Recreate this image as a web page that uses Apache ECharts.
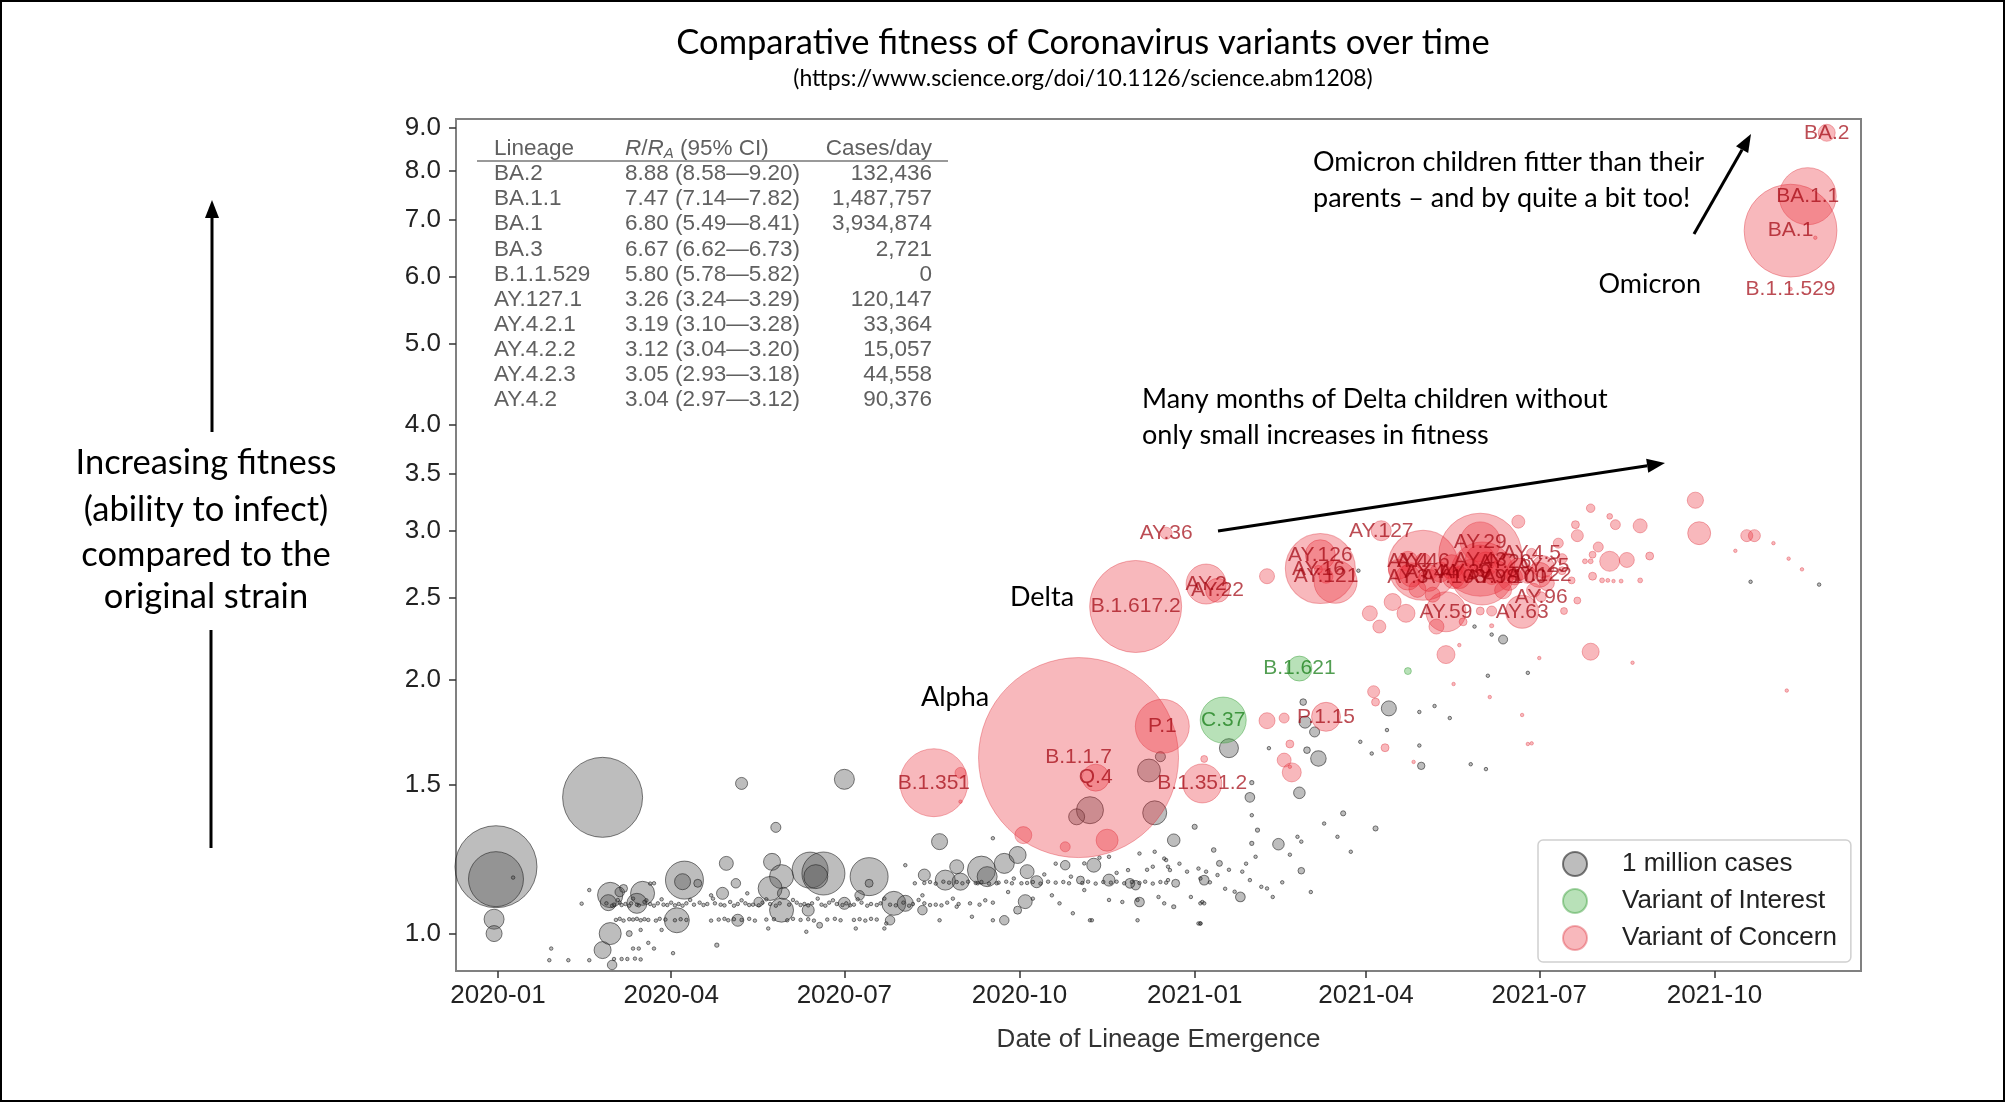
<!DOCTYPE html>
<html>
<head>
<meta charset="utf-8">
<title>Comparative fitness of Coronavirus variants over time</title>
<script src="https://cdn.jsdelivr.net/npm/echarts@6/dist/echarts.min.js"></script>
<style>
  html, body { margin: 0; padding: 0; background: #fff; }
  #chart { width: 2005px; height: 1102px; }
</style>
</head>
<body>
<div id="chart"></div>
<script>
// ---- data ----
// tuples: [date of lineage emergence, R/R_A, cases per day (thousands)]
var yTicks = [1.0, 1.5, 2.0, 2.5, 3.0, 3.5, 4.0, 5.0, 6.0, 7.0, 8.0, 9.0];
var xTicks = ['2020-01', '2020-04', '2020-07', '2020-10', '2021-01', '2021-04', '2021-07', '2021-10'];

// table in the upper left corner
var tableLineage = ['BA.2', 'BA.1.1', 'BA.1', 'BA.3', 'B.1.1.529', 'AY.127.1', 'AY.4.2.1', 'AY.4.2.2', 'AY.4.2.3', 'AY.4.2'];
var tableR = [8.88, 7.47, 6.80, 6.67, 5.80, 3.26, 3.19, 3.12, 3.05, 3.04];
var tableLow = [8.58, 7.14, 5.49, 6.62, 5.78, 3.24, 3.10, 3.04, 2.93, 2.97];
var tableHigh = [9.20, 7.82, 8.41, 6.73, 5.82, 3.29, 3.28, 3.20, 3.18, 3.12];
var tableCases = [132436, 1487757, 3934874, 2721, 0, 120147, 33364, 15057, 44558, 90376];

// other lineages (grey)
var otherLineages = [
  ['2019-12-31', 1.20, 3070], ['2019-12-31', 1.16, 1380], ['2020-01-09', 1.165, 3],
  ['2019-12-30', 1.04, 183], ['2019-12-30', 1.00, 117], ['2020-02-25', 1.45, 2920],
  ['2020-01-29', 0.96, 3], ['2020-01-28', 0.93, 2], ['2020-02-07', 0.93, 2],
  ['2020-02-14', 1.085, 2], ['2020-02-18', 1.126, 2], ['2020-02-18', 0.93, 2],
  ['2020-02-25', 0.956, 132], ['2020-02-29', 1.00, 221], ['2020-03-01', 0.918, 41],
  ['2020-02-29', 1.111, 292], ['2020-02-28', 1.088, 117], ['2020-03-17', 1.116, 263],
  ['2020-03-14', 1.086, 183], ['2020-03-10', 1.00, 16], ['2020-03-07', 1.131, 29],
  ['2020-03-05', 1.12, 41], ['2020-03-02', 0.933, 4], ['2020-03-06', 0.933, 4],
  ['2020-03-09', 0.933, 3], ['2020-03-13', 0.934, 5], ['2020-03-16', 0.932, 3],
  ['2020-03-21', 1.146, 3], ['2020-03-20', 0.975, 3], ['2020-04-02', 0.948, 4],
  ['2020-03-23', 0.96, 5], ['2020-04-08', 1.157, 659], ['2020-04-07', 1.152, 117],
  ['2020-04-04', 1.037, 285], ['2020-04-30', 1.211, 89], ['2020-05-05', 1.147, 41],
  ['2020-05-06', 1.037, 66], ['2020-04-25', 0.969, 8], ['2020-04-28', 1.116, 66],
  ['2020-04-15', 1.147, 29], ['2020-05-08', 1.506, 66], ['2020-05-26', 1.336, 46],
  ['2020-05-24', 1.216, 132], ['2020-05-29', 1.168, 263], ['2020-05-23', 1.131, 263],
  ['2020-05-29', 1.066, 263], ['2020-05-30', 1.116, 66], ['2020-05-17', 1.09, 41],
  ['2020-06-13', 1.189, 592], ['2020-06-20', 1.178, 844], ['2020-06-16', 1.168, 263],
  ['2020-06-12', 1.066, 66], ['2020-06-18', 1.023, 16], ['2020-07-01', 1.523, 183],
  ['2020-07-14', 1.168, 659], ['2020-07-14', 1.147, 29], ['2020-07-09', 1.11, 41],
  ['2020-07-01', 1.086, 66], ['2020-07-25', 1.037, 41], ['2020-07-27', 1.086, 263],
  ['2020-08-02', 1.086, 117], ['2020-08-12', 1.173, 66], ['2020-08-11', 1.066, 41],
  ['2020-08-20', 1.285, 117], ['2020-08-23', 1.157, 183], ['2020-08-29', 1.20, 89],
  ['2020-08-31', 1.152, 132], ['2020-09-11', 1.189, 358], ['2020-09-14', 1.168, 183],
  ['2020-09-23', 1.211, 183], ['2020-09-30', 1.239, 132], ['2020-10-04', 1.091, 89],
  ['2020-09-23', 1.037, 41], ['2020-09-30', 1.066, 29], ['2020-10-05', 1.184, 89],
  ['2020-10-10', 1.152, 66], ['2020-10-25', 1.205, 41], ['2020-11-02', 1.157, 29],
  ['2020-11-17', 1.157, 66], ['2020-11-09', 1.205, 89], ['2020-12-01', 1.141, 41],
  ['2020-12-22', 1.147, 29], ['2020-12-21', 1.29, 72], ['2020-12-03', 1.09, 43],
  ['2020-11-07', 1.40, 333], ['2020-10-31', 1.375, 117], ['2020-12-11', 1.39, 263],
  ['2020-12-08', 1.56, 240], ['2020-12-14', 1.62, 46], ['2020-11-28', 1.147, 43],
  ['2021-01-19', 1.658, 165], ['2021-03-07', 1.612, 110], ['2021-02-25', 1.468, 61],
  ['2021-01-30', 1.45, 43], ['2021-02-14', 1.276, 61], ['2021-01-25', 1.105, 43],
  ['2021-01-06', 1.157, 43], ['2021-02-26', 1.187, 20], ['2021-01-01', 1.338, 12],
  ['2021-03-20', 1.388, 12], ['2021-04-06', 1.332, 12], ['2021-04-30', 1.58, 25],
  ['2021-05-26', 1.587, 3], ['2021-06-03', 1.566, 3], ['2021-04-04', 1.634, 3],
  ['2021-03-29', 1.687, 3], ['2021-01-30', 1.157, 3], ['2021-02-08', 1.131, 4],
  ['2021-01-22', 1.121, 3], ['2021-01-04', 1.086, 3], ['2021-01-04', 1.028, 3],
  ['2020-12-21', 1.076, 8], ['2021-01-11', 1.256, 10], ['2021-01-14', 1.211, 16],
  ['2021-01-19', 1.19, 3], ['2021-01-31', 1.279, 8], ['2021-02-03', 1.326, 8],
  ['2021-01-31', 1.381, 4], ['2021-01-31', 1.509, 8], ['2021-02-26', 1.285, 3],
  ['2021-03-17', 1.302, 3], ['2021-03-01', 1.649, 20], ['2021-06-12', 2.23, 37],
  ['2021-06-06', 2.26, 4], ['2021-05-28', 2.31, 3], ['2021-06-04', 2.02, 3],
  ['2021-06-25', 2.036, 3], ['2021-04-13', 1.848, 103], ['2021-02-27', 1.88, 20],
  ['2021-02-28', 1.78, 66], ['2021-03-05', 1.733, 46], ['2021-02-09', 1.658, 3],
  ['2021-04-12', 1.742, 3], ['2021-04-29', 1.83, 3], ['2021-05-07', 1.86, 3],
  ['2021-05-15', 1.80, 3], ['2021-04-29', 1.67, 3], ['2021-10-20', 2.61, 3],
  ['2021-11-25', 2.59, 3], ['2021-03-28', 2.69, 3], ['2020-09-17', 1.297, 3],
  ['2020-08-02', 1.205, 3], ['2020-11-07', 1.037, 3]
];

// the dense rows of very small grey lineages
var otherMinor = [
  ['2020-02-27', 1.086, 3], ['2020-03-02', 1.082, 3], ['2020-03-05', 1.088, 4], ['2020-03-08', 1.084, 3],
  ['2020-03-11', 1.086, 4], ['2020-03-14', 1.082, 3], ['2020-03-18', 1.09, 3], ['2020-03-21', 1.084, 4],
  ['2020-03-25', 1.086, 3], ['2020-03-28', 1.082, 3], ['2020-04-01', 1.088, 3], ['2020-04-05', 1.084, 4],
  ['2020-04-09', 1.086, 3], ['2020-04-13', 1.082, 3], ['2020-04-16', 1.088, 3], ['2020-04-20', 1.084, 4],
  ['2020-04-24', 1.086, 3], ['2020-04-27', 1.082, 3], ['2020-05-02', 1.09, 3], ['2020-05-06', 1.084, 4],
  ['2020-05-10', 1.086, 3], ['2020-05-14', 1.082, 3], ['2020-05-19', 1.088, 3], ['2020-05-23', 1.084, 4],
  ['2020-05-28', 1.086, 3], ['2020-06-02', 1.082, 3], ['2020-06-06', 1.088, 4], ['2020-06-10', 1.084, 3],
  ['2020-06-14', 1.086, 3], ['2020-06-19', 1.082, 3], ['2020-06-23', 1.088, 4], ['2020-06-27', 1.084, 3],
  ['2020-07-02', 1.086, 3], ['2020-07-06', 1.082, 3], ['2020-07-10', 1.088, 3], ['2020-07-15', 1.084, 4],
  ['2020-07-20', 1.086, 3], ['2020-07-25', 1.082, 3], ['2020-08-01', 1.088, 3], ['2020-08-06', 1.084, 3],
  ['2020-08-12', 1.086, 3], ['2020-08-18', 1.082, 3], ['2020-08-24', 1.088, 3], ['2020-08-30', 1.084, 3],
  ['2020-09-05', 1.086, 3], ['2020-09-10', 1.082, 3], ['2020-09-17', 1.088, 3],
  ['2020-03-01', 1.079, 3], ['2020-03-06', 1.081, 3], ['2020-03-10', 1.079, 3], ['2020-03-15', 1.08, 3],
  ['2020-03-23', 1.079, 3], ['2020-03-30', 1.081, 3], ['2020-04-03', 1.08, 3], ['2020-04-07', 1.079, 3],
  ['2020-04-18', 1.081, 3], ['2020-04-29', 1.08, 3], ['2020-05-04', 1.079, 3], ['2020-05-12', 1.081, 3],
  ['2020-05-17', 1.08, 3], ['2020-05-26', 1.079, 3], ['2020-06-08', 1.081, 3], ['2020-06-12', 1.08, 3],
  ['2020-06-21', 1.079, 3], ['2020-06-30', 1.081, 3], ['2020-07-04', 1.08, 3], ['2020-07-13', 1.079, 3],
  ['2020-07-18', 1.081, 3], ['2020-07-28', 1.08, 3], ['2020-08-04', 1.079, 3], ['2020-08-15', 1.081, 3],
  ['2020-08-21', 1.08, 3],
  ['2020-03-04', 1.096, 3], ['2020-03-12', 1.10, 3], ['2020-03-19', 1.095, 3], ['2020-03-27', 1.098, 3],
  ['2020-04-11', 1.096, 3], ['2020-04-23', 1.10, 3], ['2020-05-08', 1.095, 3], ['2020-05-21', 1.098, 3],
  ['2020-06-04', 1.096, 3], ['2020-06-17', 1.10, 3], ['2020-06-25', 1.095, 3], ['2020-07-08', 1.098, 3],
  ['2020-07-22', 1.10, 3], ['2020-08-09', 1.096, 3], ['2020-08-27', 1.10, 3], ['2020-09-13', 1.095, 3],
  ['2020-03-03', 1.038, 3], ['2020-03-07', 1.036, 3], ['2020-03-12', 1.039, 4], ['2020-03-16', 1.037, 3],
  ['2020-03-20', 1.038, 3], ['2020-03-24', 1.036, 4], ['2020-03-29', 1.039, 3], ['2020-04-03', 1.037, 3],
  ['2020-04-09', 1.038, 3], ['2020-04-22', 1.036, 3], ['2020-04-26', 1.039, 3], ['2020-05-01', 1.037, 4],
  ['2020-05-08', 1.038, 3], ['2020-05-15', 1.036, 3], ['2020-05-21', 1.039, 3], ['2020-06-01', 1.037, 3],
  ['2020-06-08', 1.038, 3], ['2020-06-15', 1.036, 3], ['2020-06-22', 1.039, 3], ['2020-06-29', 1.037, 3],
  ['2020-07-06', 1.038, 3], ['2020-07-12', 1.036, 3], ['2020-07-18', 1.039, 3],
  ['2020-03-05', 1.041, 3], ['2020-03-10', 1.04, 3], ['2020-03-14', 1.041, 3], ['2020-03-18', 1.04, 3],
  ['2020-03-26', 1.041, 3], ['2020-04-06', 1.04, 3], ['2020-04-29', 1.041, 3], ['2020-05-04', 1.04, 3],
  ['2020-05-12', 1.041, 3], ['2020-05-25', 1.04, 3], ['2020-06-04', 1.041, 3], ['2020-06-12', 1.04, 3],
  ['2020-06-26', 1.041, 3], ['2020-07-09', 1.04, 3], ['2020-07-15', 1.041, 3],
  ['2020-08-12', 1.148, 3], ['2020-08-18', 1.146, 3], ['2020-08-25', 1.149, 4], ['2020-09-01', 1.147, 3],
  ['2020-09-08', 1.148, 3], ['2020-09-15', 1.146, 4], ['2020-09-20', 1.149, 3], ['2020-09-27', 1.147, 3],
  ['2020-10-05', 1.148, 3], ['2020-10-12', 1.146, 3], ['2020-10-20', 1.149, 3], ['2020-10-27', 1.147, 3],
  ['2020-11-03', 1.148, 3], ['2020-11-10', 1.146, 3], ['2020-11-18', 1.149, 3], ['2020-11-25', 1.147, 3],
  ['2020-12-03', 1.148, 3], ['2020-12-10', 1.146, 3], ['2020-12-17', 1.149, 3],
  ['2020-08-15', 1.151, 3], ['2020-08-22', 1.152, 3], ['2020-08-29', 1.151, 3], ['2020-09-04', 1.152, 3],
  ['2020-09-11', 1.151, 3], ['2020-09-24', 1.152, 3], ['2020-10-08', 1.151, 3], ['2020-10-16', 1.152, 3],
  ['2020-10-24', 1.151, 3], ['2020-11-06', 1.152, 3], ['2020-11-14', 1.151, 3], ['2020-11-21', 1.152, 3],
  ['2020-11-29', 1.151, 3], ['2020-12-06', 1.152, 3], ['2020-12-14', 1.151, 3],
  ['2020-03-23', 1.147, 3], ['2020-04-22', 1.11, 3], ['2020-05-11', 1.116, 3], ['2020-05-22', 1.014, 3],
  ['2020-06-11', 1.005, 3], ['2020-07-07', 1.014, 3], ['2020-07-23', 1.028, 3], ['2020-07-22', 1.014, 3],
  ['2020-08-20', 1.037, 3], ['2020-09-06', 1.047, 3], ['2020-09-17', 1.037, 3], ['2020-10-29', 1.057, 3],
  ['2020-11-08', 1.037, 3], ['2020-12-02', 1.037, 3], ['2021-01-04', 1.028, 3], ['2020-10-28', 1.168, 4],
  ['2020-11-04', 1.211, 3], ['2020-11-17', 1.233, 3], ['2020-12-03', 1.244, 3], ['2020-12-11', 1.25, 3],
  ['2020-12-17', 1.222, 4], ['2020-12-10', 1.20, 3], ['2020-12-19', 1.189, 3], ['2020-11-27', 1.189, 3],
  ['2020-11-04', 1.126, 3], ['2020-10-18', 1.11, 4], ['2020-10-22', 1.086, 3], ['2020-11-17', 1.096, 3],
  ['2020-12-13', 1.105, 3], ['2021-01-05', 1.09, 3], ['2020-12-30', 1.105, 3], ['2020-12-18', 1.157, 3],
  ['2020-12-28', 1.184, 3], ['2021-01-04', 1.162, 3], ['2020-08-29', 1.076, 3], ['2020-08-11', 1.11, 3],
  ['2020-08-07', 1.147, 3], ['2020-09-09', 1.147, 4], ['2020-09-19', 1.147, 3], ['2020-09-28', 1.162, 3],
  ['2020-10-02', 1.147, 3], ['2020-03-27', 1.01, 3], ['2020-03-16', 1.01, 3], ['2020-03-12', 0.96, 3],
  ['2020-03-15', 0.96, 3], ['2020-12-16', 1.227, 3], ['2020-12-18', 1.20, 3], ['2021-01-03', 1.194, 3],
  ['2021-01-07', 1.184, 3], ['2021-01-13', 1.173, 3], ['2021-01-26', 1.184, 3], ['2021-02-02', 1.233, 3],
  ['2021-02-05', 1.136, 3], ['2020-12-16', 1.086, 3], ['2021-01-06', 1.086, 3], ['2021-01-03', 1.028, 3],
  ['2020-12-02', 1.096, 3], ['2020-11-24', 1.09, 3], ['2021-02-11', 1.105, 3], ['2021-02-24', 1.302, 3],
  ['2020-09-25', 1.12, 3], ['2020-10-08', 1.10, 3], ['2020-10-14', 1.175, 3], ['2020-10-20', 1.21, 3],
  ['2020-11-12', 1.23, 3], ['2020-11-21', 1.18, 3], ['2020-12-07', 1.19, 3], ['2020-12-24', 1.21, 3],
  ['2021-01-09', 1.15, 3], ['2021-01-17', 1.13, 3], ['2021-01-28', 1.21, 3], ['2021-02-16', 1.15, 3],
  ['2021-02-20', 1.24, 3], ['2021-03-03', 1.12, 3], ['2021-03-10', 1.35, 3], ['2021-03-24', 1.25, 3]
];

// variants of interest (green): [name, date, R/R_A, cases]
var voiNamed = [
  ['B.1.621', '2021-02-25', 2.06, 285],
  ['C.37', '2021-01-16', 1.79, 966]
];
var voiOther = [
  ['2021-04-23', 2.046, 22]
];

// variants of concern (red): [name, date, R/R_A, cases]
var vocNamed = [
  ['B.1.1.7', '2020-11-01', 1.616, 18260], ['Q.4', '2020-11-10', 1.53, 333],
  ['B.1.351', '2020-08-17', 1.509, 2110], ['P.1', '2020-12-15', 1.76, 1331],
  ['B.1.351.2', '2021-01-05', 1.506, 694], ['P.1.15', '2021-03-11', 1.806, 384],
  ['B.1.617.2', '2020-12-01', 2.44, 3864], ['AY.36', '2020-12-17', 2.98, 66],
  ['AY.2', '2021-01-07', 2.594, 730], ['AY.22', '2021-01-13', 2.55, 263],
  ['AY.126', '2021-03-08', 2.81, 410], ['AY.16', '2021-03-07', 2.70, 29],
  ['AY.121', '2021-03-11', 2.65, 89], ['AY.127', '2021-04-09', 3.0, 183],
  ['AY.29', '2021-05-31', 2.91, 730], ['AY.59', '2021-05-13', 2.405, 730],
  ['AY.63', '2021-06-22', 2.405, 497], ['AY.96', '2021-07-02', 2.505, 46],
  ['AY.4.5', '2021-06-27', 2.82, 46], ['AY.4', '2021-04-23', 2.76, 183],
  ['AY.46', '2021-05-01', 2.76, 117], ['AY.44', '2021-05-05', 2.68, 89],
  ['AY.3', '2021-04-23', 2.64, 285], ['AY.103', '2021-05-17', 2.64, 221],
  ['AY.43', '2021-05-31', 2.77, 411], ['AY.39', '2021-05-23', 2.68, 148],
  ['AY.26', '2021-06-13', 2.75, 183], ['AY.98', '2021-06-06', 2.64, 89],
  ['AY.100', '2021-06-18', 2.645, 117], ['AY.25', '2021-07-03', 2.72, 221],
  ['AY.122', '2021-07-01', 2.66, 285],
  ['BA.2', '2021-11-29', 8.88, 132], ['BA.1.1', '2021-11-19', 7.47, 1488],
  ['BA.1', '2021-11-10', 6.80, 3935], ['B.1.1.529', '2021-11-10', 5.80, 0]
];
var vocOther = [
  ['2020-08-31', 1.55, 55], ['2020-08-31', 1.433, 3], ['2020-10-03', 1.308, 132],
  ['2020-11-16', 1.29, 221], ['2020-10-25', 1.267, 46], ['2021-02-08', 1.787, 117],
  ['2021-02-17', 1.80, 46], ['2021-02-08', 2.65, 103], ['2021-02-17', 1.605, 89],
  ['2021-02-21', 1.552, 165], ['2021-02-20', 1.677, 29], ['2021-04-11', 1.66, 29],
  ['2021-04-05', 1.934, 66], ['2021-04-06', 1.88, 29], ['2021-05-13', 2.14, 148],
  ['2021-07-28', 2.157, 132], ['2021-05-20', 2.196, 4], ['2021-07-01', 2.12, 4],
  ['2021-08-19', 2.093, 4], ['2021-06-06', 2.315, 8], ['2021-11-08', 1.94, 3],
  ['2021-04-26', 1.597, 3], ['2021-05-17', 1.975, 4], ['2021-06-25', 1.677, 3],
  ['2021-06-22', 1.815, 3], ['2021-06-27', 1.68, 3], ['2021-06-05', 1.906, 3],
  ['2021-04-03', 2.395, 103], ['2021-04-08', 2.31, 77], ['2021-04-15', 2.47, 132],
  ['2021-04-22', 2.395, 148], ['2021-05-08', 2.31, 103], ['2021-06-06', 2.41, 46],
  ['2021-05-22', 2.34, 29], ['2021-05-31', 2.41, 29], ['2021-03-08', 2.706, 2237],
  ['2021-03-16', 2.61, 844], ['2021-05-01', 2.73, 2237], ['2021-05-31', 2.81, 3145],
  ['2021-06-01', 2.67, 1812], ['2021-06-20', 3.075, 77], ['2021-07-28', 3.19, 33],
  ['2021-08-07', 3.12, 15], ['2021-08-10', 3.05, 45], ['2021-08-23', 3.04, 90],
  ['2021-09-21', 3.26, 120], ['2021-07-21', 2.96, 66], ['2021-07-11', 2.90, 46],
  ['2021-07-13', 2.78, 46], ['2021-08-07', 2.76, 183], ['2021-08-16', 2.77, 103],
  ['2021-07-29', 2.81, 22], ['2021-07-25', 2.76, 11], ['2021-07-28', 2.76, 11],
  ['2021-08-03', 2.62, 11], ['2021-08-06', 2.62, 7], ['2021-08-09', 2.615, 4],
  ['2021-08-13', 2.615, 7], ['2021-08-23', 2.62, 11], ['2021-07-29', 2.65, 29],
  ['2021-07-18', 2.62, 22], ['2021-07-13', 2.69, 29], ['2021-07-21', 2.48, 22],
  ['2021-07-14', 2.41, 22], ['2021-09-23', 2.98, 240], ['2021-10-18', 2.96, 66],
  ['2021-10-22', 2.96, 66], ['2021-08-28', 2.80, 29], ['2021-07-20', 3.05, 29],
  ['2021-08-01', 2.87, 46], ['2021-10-12', 2.84, 4], ['2021-11-09', 2.78, 4],
  ['2021-11-16', 2.70, 4], ['2021-11-01', 2.90, 4], ['2021-11-23', 6.67, 3],
  ['2021-04-18', 2.70, 183], ['2021-04-25', 2.66, 263], ['2021-05-04', 2.62, 221],
  ['2021-05-10', 2.68, 183], ['2021-05-16', 2.72, 263], ['2021-05-20', 2.64, 221],
  ['2021-05-26', 2.70, 183], ['2021-06-03', 2.74, 263], ['2021-06-09', 2.68, 221],
  ['2021-06-15', 2.62, 183], ['2021-06-20', 2.70, 221], ['2021-06-25', 2.66, 132],
  ['2021-07-05', 2.60, 103], ['2021-04-28', 2.56, 132], ['2021-05-06', 2.52, 103],
  ['2021-06-12', 2.55, 132], ['2021-06-28', 2.55, 89], ['2021-01-06', 1.61, 22],
  ['2021-02-20', 1.576, 3]
];

// ---- helpers ----
var TEXT_FONT = 'Lato';
var AXIS_FONT = 'Liberation Sans';

function dayValue(s) {
  return new Date(+s.slice(0, 4), +s.slice(5, 7) - 1, +s.slice(8, 10)).getTime();
}
function toPoints(list) {
  return list.map(function (d) { return [dayValue(d[0]), d[1], d[2]]; });
}
function toNamedPoints(list) {
  return list.map(function (d) {
    return { name: d[0], value: [dayValue(d[1]), d[2], d[3]] };
  });
}
//面积与病例数成正比
function bubbleSize(v) {
  return Math.max(3.5, 1.48 * Math.sqrt(v[2]));
}
function monthStart(s) {
  return new Date(+s.slice(0, 4), +s.slice(5, 7) - 1, 1).getTime();
}
function pad2(n) { return (n < 10 ? '0' : '') + n; }
function arrow(x1, y1, x2, y2) {
  var ang = Math.atan2(y2 - y1, x2 - x1), L = 18, W = 7;
  var bx = x2 - L * Math.cos(ang), by = y2 - L * Math.sin(ang);
  return [
    { type: 'line', z: 50, shape: { x1: x1, y1: y1, x2: bx, y2: by }, style: { stroke: '#000', lineWidth: 3 } },
    { type: 'polygon', z: 50, shape: { points: [[x2, y2], [bx - W * Math.sin(ang), by + W * Math.cos(ang)], [bx + W * Math.sin(ang), by - W * Math.cos(ang)]] }, style: { fill: '#000' } }
  ];
}
function label(text, x, y, size, align) {
  return {
    type: 'text', z: 50, x: x, y: y,
    style: { text: text, font: size + 'px ' + TEXT_FONT, fill: '#000', align: align || 'left', verticalAlign: 'middle' }
  };
}

// ---- table (graphic text) ----
var tableGraphic = [];
var tableColor = '#606060';
var tableFont = '22.5px ' + AXIS_FONT;
tableGraphic.push({ type: 'text', z: 40, x: 494, y: 149, style: { text: 'Lineage', font: tableFont, fill: tableColor, verticalAlign: 'middle' } });
tableGraphic.push({
  type: 'text', z: 40, x: 625, y: 149,
  style: {
    text: '{i|R}/{i|R}{s|A} (95% CI)', font: tableFont, fill: tableColor, verticalAlign: 'middle',
    rich: {
      i: { fontStyle: 'italic', fontSize: 22.5, fontFamily: AXIS_FONT, fill: tableColor },
      s: { fontStyle: 'italic', fontSize: 15, fontFamily: AXIS_FONT, fill: tableColor, padding: [10, 0, 0, 0] }
    }
  }
});
tableGraphic.push({ type: 'text', z: 40, x: 932, y: 149, style: { text: 'Cases/day', font: tableFont, fill: tableColor, align: 'right', verticalAlign: 'middle' } });
tableGraphic.push({ type: 'line', z: 40, shape: { x1: 477, y1: 161, x2: 948, y2: 161 }, style: { stroke: '#777', lineWidth: 1.5 } });
tableLineage.forEach(function (name, i) {
  var y = 174 + 25.1 * i;
  tableGraphic.push({ type: 'text', z: 40, x: 494, y: y, style: { text: name, font: tableFont, fill: tableColor, verticalAlign: 'middle' } });
  tableGraphic.push({
    type: 'text', z: 40, x: 625, y: y,
    style: { text: tableR[i].toFixed(2) + ' (' + tableLow[i].toFixed(2) + '\u2014' + tableHigh[i].toFixed(2) + ')', font: tableFont, fill: tableColor, verticalAlign: 'middle' }
  });
  tableGraphic.push({
    type: 'text', z: 40, x: 932, y: y,
    style: { text: tableCases[i].toLocaleString('en-US'), font: tableFont, fill: tableColor, align: 'right', verticalAlign: 'middle' }
  });
});

// ---- annotations ----
var notes = [
  { type: 'rect', z: 60, silent: true, shape: { x: 1, y: 1, width: 2003, height: 1100 }, style: { fill: 'none', stroke: '#000', lineWidth: 2 } },
  { type: 'text', z: 50, x: 1083, y: 43, style: { text: 'Comparative fitness of Coronavirus variants over time', font: '34.5px ' + TEXT_FONT, fill: '#000', align: 'center', verticalAlign: 'middle' } },
  { type: 'text', z: 50, x: 1083, y: 79, style: { text: '(https://www.science.org/doi/10.1126/science.abm1208)', font: '23px ' + TEXT_FONT, fill: '#000', align: 'center', verticalAlign: 'middle' } },
  label('Increasing fitness', 206, 463, 34.5, 'center'),
  label('(ability to infect)', 206, 510, 34.5, 'center'),
  label('compared to the', 206, 555, 34.5, 'center'),
  label('original strain', 206, 597, 34.5, 'center'),
  label('Alpha', 921, 697, 27),
  label('Delta', 1010, 597, 27),
  label('Omicron', 1701, 284, 27, 'right'),
  label('Omicron children fitter than their', 1313, 162, 27),
  label('parents \u2013 and by quite a bit too!', 1313, 198, 27),
  label('Many months of Delta children without', 1142, 399, 27),
  label('only small increases in fitness', 1142, 435, 27),
  { type: 'line', z: 50, shape: { x1: 211, y1: 630, x2: 211, y2: 848 }, style: { stroke: '#000', lineWidth: 3 } }
]
  .concat(arrow(212, 432, 212, 200))
  .concat(arrow(1694, 234, 1751, 134))
  .concat(arrow(1218, 531, 1665, 463));

// ---- chart ----
var chart = echarts.init(document.getElementById('chart'));
var xTickValues = xTicks.map(monthStart);

var option = {
  animation: false,
  backgroundColor: '#fff',
  grid: { left: 456, top: 119, width: 1405, height: 852, show: true, borderColor: '#808080', borderWidth: 2, containLabel: false },
  legend: {
    left: 1538, top: 840, orient: 'vertical',
    itemWidth: 24, itemHeight: 24, itemGap: 11,
    padding: [11, 14, 11, 24],
    backgroundColor: '#fff', borderColor: '#d0d0d0', borderWidth: 1.5, borderRadius: 5,
    icon: 'circle',
    textStyle: { fontFamily: AXIS_FONT, fontSize: 26, color: '#222', padding: [0, 0, 0, 30] },
    data: ['1 million cases', 'Variant of Interest', 'Variant of Concern']
  },
  xAxis: {
    type: 'value',
    min: dayValue('2019-12-10'), max: dayValue('2021-12-17'),
    name: 'Date of Lineage Emergence', nameLocation: 'middle', nameGap: 56,
    nameTextStyle: { fontFamily: AXIS_FONT, fontSize: 26, color: '#333' },
    axisLine: { lineStyle: { color: '#808080', width: 2 } },
    axisTick: { show: true, length: 7, customValues: xTickValues, lineStyle: { color: '#333', width: 1.5 } },
    axisLabel: {
      customValues: xTickValues, margin: 12,
      fontFamily: AXIS_FONT, fontSize: 26, color: '#222',
      formatter: function (v) { var d = new Date(v); return d.getFullYear() + '-' + pad2(d.getMonth() + 1); }
    },
    splitLine: { show: false }
  },
  yAxis: {
    type: 'log', logBase: 10,
    min: 0.903, max: 9.22,
    axisLine: { show: true, lineStyle: { color: '#808080', width: 2 } },
    axisTick: { show: true, length: 7, customValues: yTicks, lineStyle: { color: '#333', width: 1.5 } },
    axisLabel: {
      customValues: yTicks, margin: 15,
      fontFamily: AXIS_FONT, fontSize: 26, color: '#222',
      formatter: function (v) { return (+v).toFixed(1); }
    },
    splitLine: { show: false }
  },
  series: [
    {
      name: '1 million cases', type: 'scatter', z: 2,
      symbolSize: bubbleSize,
      itemStyle: { color: 'rgba(80,80,80,0.47)', borderColor: 'rgba(30,30,30,0.72)', borderWidth: 1 },
      data: toPoints(otherLineages).concat(toPoints(otherMinor))
    },
    {
      name: 'Variant of Interest', type: 'scatter', z: 3,
      symbolSize: bubbleSize,
      itemStyle: { color: 'rgba(45,165,45,0.42)', borderColor: 'rgba(40,150,40,0.5)', borderWidth: 1 },
      label: {
        show: true, position: 'inside', fontFamily: AXIS_FONT, fontSize: 21, color: 'rgba(15,120,15,0.9)',
        formatter: function (p) { return p.name || ''; }
      },
      data: toNamedPoints(voiNamed).concat(toPoints(voiOther))
    },
    {
      name: 'Variant of Concern', type: 'scatter', z: 4,
      symbolSize: bubbleSize,
      itemStyle: { color: 'rgba(235,45,55,0.42)', borderColor: 'rgba(220,40,50,0.45)', borderWidth: 1 },
      label: {
        show: true, position: 'inside', fontFamily: AXIS_FONT, fontSize: 21, color: 'rgba(160,0,12,0.88)',
        formatter: function (p) { return p.name || ''; }
      },
      data: toNamedPoints(vocNamed).concat(toPoints(vocOther))
    }
  ],
  graphic: tableGraphic.concat(notes)
};
chart.setOption(option);
</script>
</body>
</html>
